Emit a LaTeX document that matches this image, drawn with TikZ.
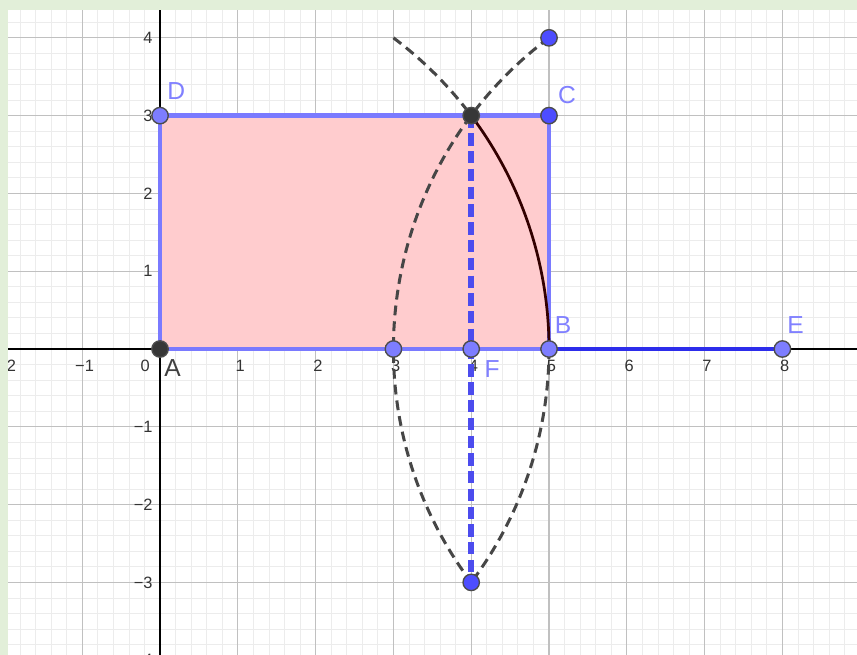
\documentclass[tikz,border=0pt]{standalone}
\usepackage{fontspec}
\setmainfont{Liberation Sans}
\usepackage{xcolor}
\usetikzlibrary{positioning}
\definecolor{frameGreen}{RGB}{226,239,217}
\definecolor{gridMajor}{RGB}{192,192,192}
\definecolor{gridMinor}{RGB}{236,236,236}
\definecolor{rectFill}{RGB}{255,204,206}
\definecolor{rectEdge}{RGB}{122,122,255}
\definecolor{ptStrong}{RGB}{77,77,255}
\definecolor{ptSoft}{RGB}{125,125,255}
\definecolor{ptDark}{RGB}{55,55,55}
\definecolor{lblBlue}{RGB}{128,128,255}
\definecolor{segBlue}{RGB}{45,45,235}
\definecolor{arcGray}{RGB}{70,70,70}

\begin{document}
\begin{tikzpicture}[
			ticklbl/.style={font=\fontsize{6}{7}\selectfont, text=black!80, inner sep=0pt},
			ptlbl/.style={font=\fontsize{9}{10}\selectfont, text=lblBlue, inner sep=0pt},
			dot/.style={circle, draw=black!70, line width=0.5pt, inner sep=0pt, minimum size=6pt},
			dotstrong/.style={dot, fill=ptStrong},
			dotsoft/.style={dot, fill=ptSoft},
			dotdark/.style={dot, fill=ptDark},
			arcdash/.style={arcGray, line width=1.1pt, dash pattern=on 3.6pt off 2.2pt},
			arcsolid/.style={black!80!red, line width=1pt},
			edge/.style={rectEdge, line width=1.8pt}
			]
			\useasboundingbox (-2.057,-3.933) rectangle (8.959,4.486);
			\clip (-2.057,-3.933) rectangle (8.959,4.486);
			\fill[white] (-2.057,-3.933) rectangle (8.959,4.486);
			% grid
			\draw[gridMinor, line width=0.3pt, step=0.2] (-2.057,-3.933) grid (8.959,4.486);
			\draw[gridMajor, line width=0.4pt, step=1] (-2.057,-3.933) grid (8.959,4.486);
			\draw[black, line width=0.6pt] (-2.057,0) -- (8.959,0);
			\draw[black, line width=0.6pt] (0,-3.933) -- (0,4.486);
			\foreach \x/\t in {-2/−2,-1/−1,1/1,2/2,3/3,4/4,5/5,6/6,7/7,8/8}
				\node[ticklbl] at (\x+0.03,-0.22) {\t};
			\foreach \y/\t in {-4/−4,-3/−3,-2/−2,-1/−1,1/1,2/2,3/3,4/4}
				\node[ticklbl, anchor=east] at (-0.09,\y) {\t};
			\node[ticklbl] at (-0.19,-0.22) {0};
			% points
			\coordinate (A) at (0,0);
			\coordinate (B) at (5,0);
			\coordinate (C) at (5,3);
			\coordinate (D) at (0,3);
			\coordinate (E) at (8,0);
			\coordinate (F) at (4,0);
			\coordinate (G) at (3,0);
			\coordinate (H) at (4,3);
			\coordinate (K) at (4,-3);
			\coordinate (L) at (5,4);
			\coordinate (M) at (3,4);
			% rectangle ABCD
			\fill[rectFill] (A) -- (B) -- (C) -- (D) -- cycle;
			\draw[edge] (A) -- (B) -- (C) -- (D) -- cycle;
			% arcs
			\draw[arcdash] (M) arc[start angle=53.13, end angle=36.87, radius=5];
			\draw[arcsolid] (H) arc[start angle=36.87, end angle=0, radius=5];
			\draw[arcdash] (B) arc[start angle=0, end angle=-36.87, radius=5];
			\draw[arcdash] (L) arc[start angle=126.87, end angle=216.87, radius=5];
			% segments
			\draw[segBlue, line width=1.8pt] (B) -- (E);
			\draw[segBlue!85!white, line width=2pt, dash pattern=on 4.5pt off 2pt] (H) -- (K);
			% dots
			\node[dotdark] (pA) at (A) {};
			\node[dotsoft] (pB) at (B) {};
			\node[dotstrong] (pC) at (C) {};
			\node[dotsoft] (pD) at (D) {};
			\node[dotsoft] (pE) at (E) {};
			\node[dotsoft] (pF) at (F) {};
			\node[dotsoft] (pG) at (G) {};
			\node[dotdark] (pH) at (H) {};
			\node[dotstrong] (pK) at (K) {};
			\node[dotstrong] (pL) at (L) {};
			% labels
			\node[ptlbl, text=black!75] (lA) at (0.16,-0.25) {A};
			\node[ptlbl] (lB) at (5.18,0.31) {B};
			\node[ptlbl] (lC) at (5.23,3.27) {C};
			\node[ptlbl] (lD) at (0.21,3.32) {D};
			\node[ptlbl] (lE) at (8.17,0.31) {E};
			\node[ptlbl] (lF) at (4.27,-0.26) {F};
			% frame
			\fill[frameGreen] (-2.057,-3.933) rectangle (-1.954,4.486);
			\fill[frameGreen] (-2.057,4.357) rectangle (8.959,4.486);
		\end{tikzpicture}
\end{document}
